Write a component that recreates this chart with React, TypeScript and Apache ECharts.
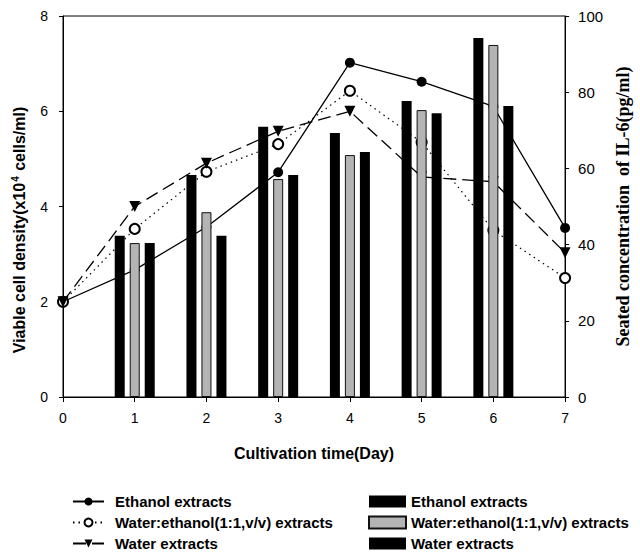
import React, { useEffect, useRef } from "react";
import * as echarts from "echarts";

const days = [0, 1, 2, 3, 4, 5, 6, 7];
const barDays = [1, 2, 3, 4, 5, 6];

// Viable cell density (x10^4 cells/ml), left axis
const ethanolCell = [2.0, 2.67, 3.57, 4.72, 7.02, 6.62, 6.1, 3.55];
const mixCell = [2.0, 3.53, 4.73, 5.31, 6.43, 5.35, 3.5, 2.5];
const waterCell = [2.0, 4.0, 4.91, 5.58, 6.0, 4.62, 4.52, 3.03];

// IL-6 concentration (pg/ml), right axis
const ethanolIL6 = [42.3, 58.3, 70.9, 69.3, 77.7, 94.2];
const mixIL6 = [40.4, 48.5, 57.2, 63.5, 75.3, 92.4];
const waterIL6 = [40.4, 42.3, 58.3, 64.3, 74.5, 76.4];

const lineNames = ["Ethanol extracts", "Water:ethanol(1:1,v/v) extracts", "Water extracts"];
const barNames = ["Ethanol extracts ", "Water:ethanol(1:1,v/v) extracts ", "Water extracts "];

const SANS = "'Liberation Sans', Arial, sans-serif";
const SERIF = "'Liberation Serif', 'Times New Roman', serif";

const pair = (xs: number[], ys: number[]) => xs.map((x, i) => [x, ys[i]]);

export default function App() {
  const ref = useRef<HTMLDivElement>(null);
  useEffect(() => {
    const chart = echarts.init(ref.current!, null, { renderer: "svg" });
    chart.setOption({
      animation: false,
      backgroundColor: "#fff",
      grid: { left: 63, right: 57, top: 16, bottom: 159, show: true, borderColor: "#000", borderWidth: 1 },
      graphic: [
        {
          type: "text",
          x: 19,
          y: 230,
          rotation: Math.PI / 2,
          style: {
            text: "{a|Viable cell density(x10}{s|4}{a| cells/ml)}",
            align: "center",
            verticalAlign: "middle",
            fill: "#000",
            rich: {
              a: { fontSize: 16, fontWeight: "bold", fontFamily: SANS, fill: "#000", color: "#000" },
              s: { fontSize: 10, fontWeight: "bold", fontFamily: SANS, fill: "#000", color: "#000", verticalAlign: "top", padding: [0, 1, 8, 1] },
            },
          },
        },
      ],
      xAxis: {
        type: "value",
        min: 0,
        max: 7,
        interval: 1,
        axisLine: { show: true, lineStyle: { color: "#000", width: 1 } },
        axisTick: { show: true, inside: false, length: 5, lineStyle: { color: "#000" } },
        splitLine: { show: false },
        axisLabel: { color: "#000", fontSize: 14, fontFamily: SANS, margin: 14 },
        name: "Cultivation time(Day)",
        nameLocation: "middle",
        nameGap: 48,
        nameTextStyle: { color: "#000", fontSize: 16, fontWeight: "bold", fontFamily: SANS },
      },
      yAxis: [
        {
          type: "value",
          position: "left",
          min: 0,
          max: 8,
          interval: 2,
          axisLine: { show: true, lineStyle: { color: "#000", width: 1 } },
          axisTick: { show: true, inside: false, length: 4, lineStyle: { color: "#000" } },
          splitLine: { show: false },
          axisLabel: { color: "#000", fontSize: 14, fontFamily: SANS, margin: 15 },
        },
        {
          type: "value",
          position: "right",
          min: 0,
          max: 100,
          interval: 20,
          axisLine: { show: true, lineStyle: { color: "#000", width: 1 } },
          axisTick: { show: true, inside: false, length: 4, lineStyle: { color: "#000" } },
          splitLine: { show: false },
          axisLabel: { color: "#000", fontSize: 15, fontFamily: SANS, margin: 13 },
          name: "Seated concentration  of IL-6(pg/ml)",
          nameLocation: "middle",
          nameGap: 44,
          nameRotate: 90,
          nameTextStyle: { color: "#000", fontSize: 18, fontWeight: "bold", fontFamily: SERIF },
        },
      ],
      legend: [
        {
          orient: "vertical",
          left: 67,
          top: 489,
          height: 70,
          itemWidth: 31,
          itemHeight: 10,
          itemGap: 6,
          data: lineNames,
          selectedMode: false,
          textStyle: { color: "#000", fontSize: 15, lineHeight: 15, fontWeight: "bold", fontFamily: SANS, padding: [0, 0, 0, 6] },
        },
        {
          orient: "vertical",
          left: 363,
          top: 489,
          height: 70,
          itemWidth: 37,
          itemHeight: 12,
          itemGap: 6,
          icon: "rect",
          data: barNames,
          selectedMode: false,
          textStyle: { color: "#000", fontSize: 15, lineHeight: 15, fontWeight: "bold", fontFamily: SANS, padding: [0, 0, 0, 0] },
        },
      ],
      series: [
        {
          name: barNames[0],
          type: "bar",
          yAxisIndex: 1,
          data: pair(barDays, ethanolIL6),
          barWidth: 10,
          barGap: "50%",
          z: 5,
          itemStyle: { color: "#000" },
        },
        {
          name: barNames[1],
          type: "bar",
          yAxisIndex: 1,
          data: pair(barDays, mixIL6),
          barWidth: 10,
          barGap: "50%",
          z: 5,
          itemStyle: { color: "#b4b4b4", borderColor: "#111", borderWidth: 1 },
        },
        {
          name: barNames[2],
          type: "bar",
          yAxisIndex: 1,
          data: pair(barDays, waterIL6),
          barWidth: 10,
          barGap: "50%",
          z: 5,
          itemStyle: { color: "#000" },
        },
        {
          name: lineNames[0],
          type: "line",
          yAxisIndex: 0,
          data: pair(days, ethanolCell),
          z: 2,
          symbol: "circle",
          symbolSize: 10,
          itemStyle: { color: "#000" },
          lineStyle: { color: "#000", width: 1.3, type: "solid" },
        },
        {
          name: lineNames[1],
          type: "line",
          yAxisIndex: 0,
          data: pair(days, mixCell),
          z: 2,
          symbol: "emptyCircle",
          symbolSize: 10,
          itemStyle: { color: "#000", borderColor: "#000", borderWidth: 1.2 },
          lineStyle: { color: "#000", width: 1.2, type: [1.5, 4] },
        },
        {
          name: lineNames[2],
          type: "line",
          yAxisIndex: 0,
          data: pair(days, waterCell),
          z: 2,
          symbol: "triangle",
          symbolRotate: 180,
          symbolSize: 11,
          itemStyle: { color: "#000" },
          lineStyle: { color: "#000", width: 1.3, type: [13, 6] },
        },
      ],
    });
    return () => chart.dispose();
  }, []);
  return (
    <div
      ref={ref}
      style={{ position: "fixed", left: 0, top: 0, width: 640, height: 556, background: "#fff" }}
    />
  );
}
